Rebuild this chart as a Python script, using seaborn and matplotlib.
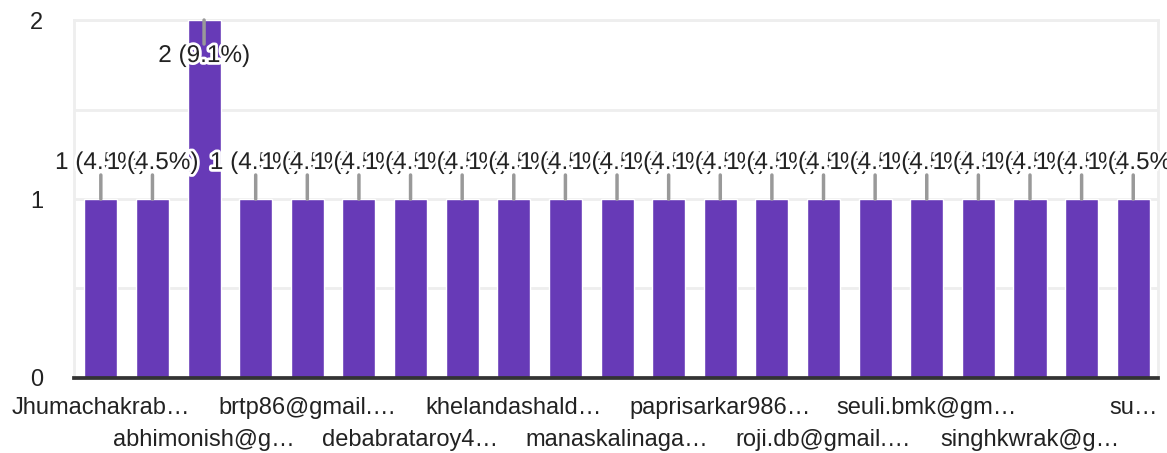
import numpy as np
import pandas as pd
import seaborn as sns
import matplotlib.pyplot as plt
import matplotlib.patheffects as pe
from matplotlib.ticker import MultipleLocator

# responses per person (22 responses, 21 people)
counts = [1, 1, 2, 1, 1, 1, 1, 1, 1, 1, 1, 1, 1, 1, 1, 1, 1, 1, 1, 1, 1]
# only every second name is printed on the axis
tick_names = [
    "Jhumachakrab…", "abhimonish@g…", "brtp86@gmail.…", "debabrataroy4…",
    "khelandashald…", "manaskalinaga…", "paprisarkar986…", "roji.db@gmail.…",
    "seuli.bmk@gm…", "singhkwrak@g…", "su…",
]
yticks = [0, 1, 2]

total = sum(counts)
df = pd.DataFrame({"slot": np.arange(len(counts)), "count": counts})

sns.set_style("white")
plt.rcParams["font.family"] = ["Liberation Sans", "DejaVu Sans"]

fig = plt.figure(figsize=(11.67, 4.53), dpi=100)
ax = fig.add_axes([0.0634, 0.1656, 0.9289, 0.7902])

sns.barplot(data=df, x="slot", y="count", color="#673AB7", saturation=1,
            width=0.64, ax=ax, zorder=3)

ax.set_ylim(0, 2)
ax.set_xlim(-0.52, len(counts) - 0.52)
ax.set_yticks(yticks)
ax.yaxis.set_minor_locator(MultipleLocator(0.5))
ax.grid(True, which="both", axis="y", color="#eeeeee", lw=2, zorder=0)
ax.set_axisbelow(True)

for side in ["left", "right", "top"]:
    ax.spines[side].set_color("#eeeeee")
    ax.spines[side].set_linewidth(2)
ax.spines["bottom"].set_color("#333333")
ax.spines["bottom"].set_linewidth(2.7)
ax.spines["bottom"].set_zorder(5)

ax.set_xlabel("")
ax.set_ylabel("")
ax.tick_params(axis="both", which="both", length=0, labelsize=17, colors="#222222")
ax.tick_params(axis="y", pad=22)
ax.tick_params(axis="x", pad=14)

pos = np.arange(0, len(counts), 2)
ax.set_xticks(pos)
lbls = [n if i % 2 == 0 else "\n" + n for i, n in enumerate(tick_names)]
ax.set_xticklabels(lbls, linespacing=1.55)

halo = [pe.withStroke(linewidth=4, foreground="white")]
top = ax.get_ylim()[1]
for x, c in zip(df["slot"], df["count"]):
    sign = -1 if c >= top else 1
    ax.annotate("", xy=(x, c), xytext=(0, 24 * sign), textcoords="offset pixels",
                arrowprops=dict(arrowstyle="-", color="#999999", lw=2.5,
                                shrinkA=0, shrinkB=0), zorder=4)
    ax.annotate(f"{c} ({c / total * 100:.1f}%)", xy=(x, c), xytext=(0, 36 * sign),
                textcoords="offset pixels", ha="center", va="center",
                fontsize=17.5, color="#222222", path_effects=halo, zorder=6,
                annotation_clip=False)

fig.savefig("out.png", dpi=100)
